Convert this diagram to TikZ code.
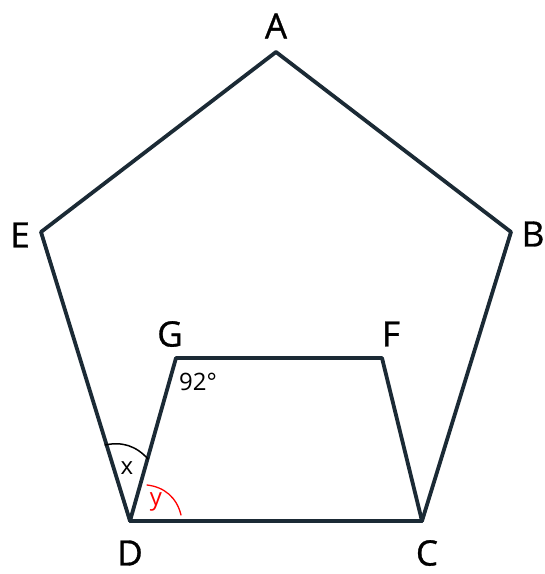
\documentclass[tikz,border=0pt]{standalone}
\usepackage{fontspec}
\setmainfont{Open Sans}
\newfontfamily\lblfont{Open Sans}[FakeBold=0.9]
\definecolor{edge}{HTML}{1B2A35}
\begin{document}
\begin{tikzpicture}[x=1pt, y=-1pt, line join=round, line cap=round]
			\useasboundingbox (0,0) rectangle (545,574);
			\tikzset{lbl/.style={font=\lblfont\fontsize{35}{40}\selectfont}, ang/.style={font=\fontsize{24}{28}\selectfont}}
			
			\coordinate (A) at (276,52); 
			\coordinate (B) at (511,232); 
			\coordinate (C) at (422,521); 
			\coordinate (D) at (130,521); 
			\coordinate (E) at (41,232); 
			\coordinate (G) at (176,358); 
			\coordinate (F) at (382,358); 
			\coordinate (X1) at (105,445); 
			\coordinate (X2) at (148,459); 
			\coordinate (Y1) at (147,485); 
			\coordinate (Y2) at (181,515); 
			
			\draw[edge, line width=3.8pt] (A)--(B)--(C)--(D)--(E)--cycle;
			\draw[edge, line width=3.8pt] (D)--(G)--(F)--(C);
			
			\draw[black, line width=1.5pt] (X1) to[bend left=30] (X2);
			\draw[red, line width=1.3pt] (Y1) to[bend left=35] (Y2);
			
			\node[lbl] (lA) at (276,26) {A};
			\node[lbl] (lB) at (533,234) {B};
			\node[lbl] (lC) at (427,553) {C};
			\node[lbl] (lD) at (130,553) {D};
			\node[lbl] (lE) at (20,235) {E};
			\node[lbl] (lF) at (391,334) {F};
			\node[lbl] (lG) at (170,334) {G};
			\node[ang] (ag) at (198,382) {92°};
			\node[ang] (ax) at (127,468) {x};
			\node[ang, red] (ay) at (156,502) {y};
	\end{tikzpicture}
\end{document}
